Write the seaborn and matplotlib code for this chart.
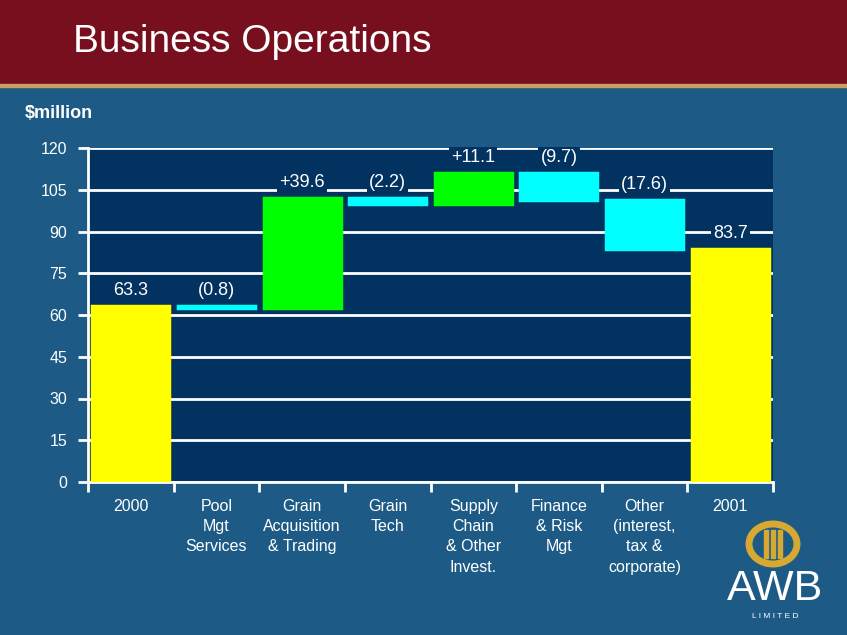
import numpy as np
import matplotlib
matplotlib.use("Agg")
import matplotlib.pyplot as plt
import seaborn as sns
from matplotlib.patches import Ellipse, Rectangle

# waterfall data ($million)
categories = ["2000", "Pool\nMgt\nServices", "Grain\nAcquisition\n& Trading", "Grain\nTech",
              "Supply\nChain\n& Other\nInvest.", "Finance\n& Risk\nMgt",
              "Other\n(interest,\ntax &\ncorporate)", "2001"]
changes = [63.3, -0.8, 39.6, -2.2, 11.1, -9.7, -17.6, 83.7]
kinds = ["total", "neg", "pos", "neg", "pos", "neg", "neg", "total"]
value_labels = ["63.3", "(0.8)", "+39.6", "(2.2)", "+11.1", "(9.7)", "(17.6)", "83.7"]
y_ticks = [0, 15, 30, 45, 60, 75, 90, 105, 120]

kind_colors = {"total": "#ffff00", "pos": "#00ff00", "neg": "#00ffff"}

# floating bar bottoms / heights from the running total
bottoms, heights = [], []
running = 0.0
for c, k in zip(changes, kinds):
    if k == "total":
        bottoms.append(0.0)
        heights.append(c)
        running = c
    else:
        new = running + c
        bottoms.append(min(running, new))
        heights.append(abs(c))
        running = new

sns.set_theme(style="white")
plt.rcParams["font.family"] = ["Liberation Sans", "DejaVu Sans"]

BG = "#1d5b86"
NAVY = "#02325f"
GOLD = "#d7a832"

fig = plt.figure(figsize=(8.47, 6.35), dpi=100, facecolor=BG)

# header band
fig.patches.append(Rectangle((0, 1 - 84 / 635), 1, 84 / 635, transform=fig.transFigure,
                             color="#780f1f", zorder=0))
fig.patches.append(Rectangle((0, 1 - 87 / 635), 1, 3 / 635, transform=fig.transFigure,
                             color="#c9a063", zorder=0))
fig.text(73 / 847, 1 - 42 / 635, "Business Operations", color="white", fontsize=28,
         va="center", ha="left")
fig.text(25 / 847, 1 - 114 / 635, "$million", color="white", fontsize=13,
         fontweight="bold", va="center", ha="left")

ax = fig.add_axes([88 / 847, 1 - 482 / 635, 685 / 847, 334 / 635])
ax.set_facecolor(NAVY)

palette = [kind_colors[k] for k in kinds]
sns.barplot(x=categories, y=heights, hue=categories, palette=palette, legend=False,
            width=0.9, saturation=1, ax=ax, zorder=3, linewidth=2.5)
for patch, b, col in zip(ax.patches, bottoms, palette):
    patch.set_y(b)
    patch.set_edgecolor(col)

# value labels above each bar
for i, (b, h, lab) in enumerate(zip(bottoms, heights, value_labels)):
    ax.text(i, b + h + 2.6, lab, color="white", fontsize=13, ha="center", va="bottom",
            zorder=4, bbox=dict(facecolor=NAVY, edgecolor="none", pad=1.5))

ax.set_ylim(0, 120)
ax.set_xlim(-0.5, len(categories) - 0.5)
ax.set_yticks(y_ticks)
ax.yaxis.grid(True, color="white", linewidth=2)
ax.set_axisbelow(True)

for side in ["top", "right"]:
    ax.spines[side].set_visible(False)
for side in ["left", "bottom"]:
    ax.spines[side].set_color("white")
    ax.spines[side].set_linewidth(2)

ax.tick_params(axis="y", colors="white", labelsize=11.5, length=7, width=2, left=True,
               direction="out", pad=8)
ax.set_xticks(np.arange(len(categories)))
ax.set_xticklabels(categories, color="white", fontsize=11.5, linespacing=1.45, va="top")
ax.tick_params(axis="x", which="major", length=0, pad=12)
ax.set_xticks(np.arange(len(categories) + 1) - 0.5, minor=True)
ax.tick_params(axis="x", which="minor", length=7, width=2, color="white", bottom=True,
               direction="out")
ax.set_xlabel("")
ax.set_ylabel("")

# AWB logo
ring = Ellipse((773 / 847, 1 - 544 / 635), 48 / 847, 40 / 635, transform=fig.transFigure,
               facecolor="none", edgecolor=GOLD, linewidth=5)
fig.patches.append(ring)
for dx in (-7, 0, 7):
    fig.patches.append(Rectangle(((773 + dx - 2) / 847, 1 - 558 / 635), 4 / 847, 28 / 635,
                                 transform=fig.transFigure, color=GOLD))
fig.text(775 / 847, 1 - 589 / 635, "AWB", color="white", fontsize=31, ha="center",
         va="center")
fig.text(775 / 847, 1 - 616 / 635, "L I M I T E D", color="white", fontsize=6,
         ha="center", va="center")

fig.savefig("out.png", dpi=100, facecolor=BG)
